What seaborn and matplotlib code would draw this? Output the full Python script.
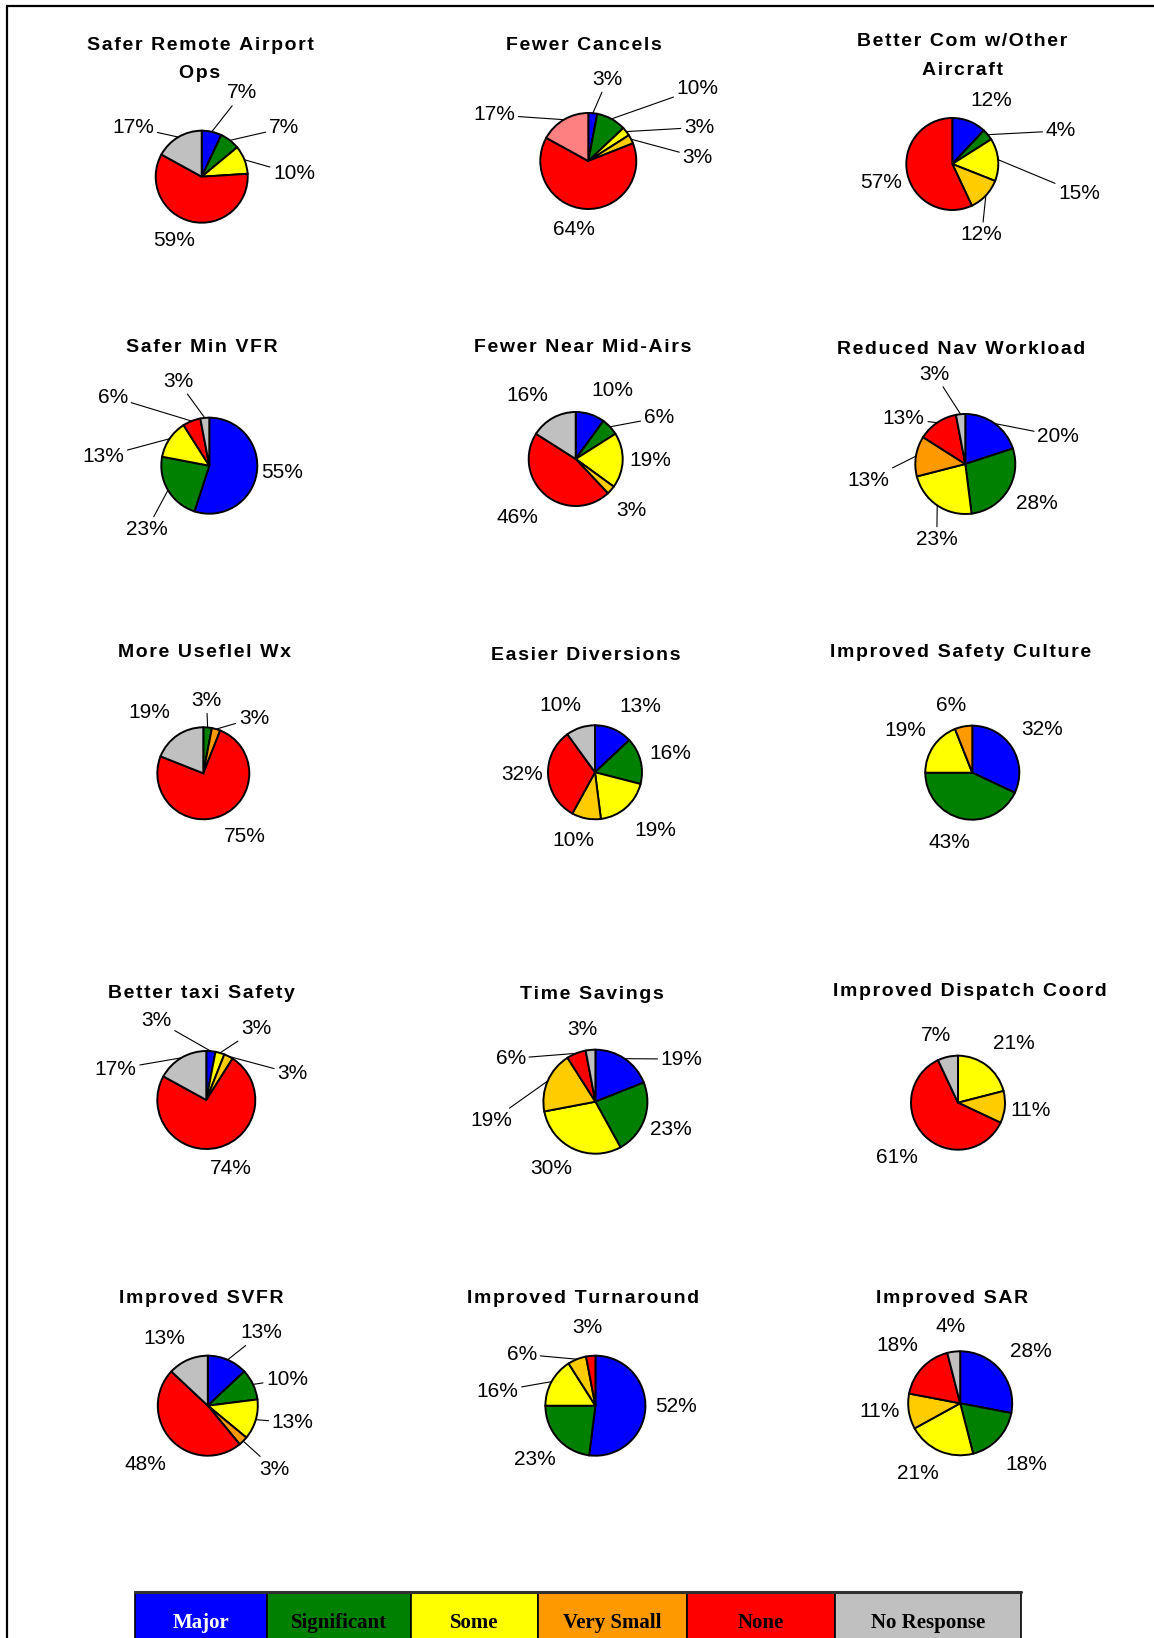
import numpy as np
import matplotlib
matplotlib.use("Agg")
import matplotlib.pyplot as plt
import seaborn as sns
from matplotlib.patches import Rectangle

# categories of benefit, in slice order (clockwise from 12 o'clock)
categories = ['Major', 'Significant', 'Some', 'Very Small', 'None', 'No Response']

titles = ['Safer Remote Airport\nOps', 'Fewer Cancels', 'Better Com w/Other\nAircraft',
          'Safer Min VFR', 'Fewer Near Mid-Airs', 'Reduced Nav Workload',
          'More Useflel Wx', 'Easier Diversions', 'Improved Safety Culture',
          'Better taxi Safety', 'Time Savings', 'Improved Dispatch Coord',
          'Improved SVFR', 'Improved Turnaround', 'Improved SAR']

# percent of responses per category (0 = no slice)
remote_ops      = [7, 7, 10, 0, 59, 17]
fewer_cancels   = [3, 10, 3, 3, 64, 17]
better_com      = [12, 4, 15, 12, 57, 0]
safer_min_vfr   = [55, 23, 13, 0, 6, 3]
near_mid_airs   = [10, 6, 19, 3, 46, 16]
nav_workload    = [20, 28, 23, 13, 13, 3]
useful_wx       = [0, 3, 0, 3, 75, 19]
diversions      = [13, 16, 19, 10, 32, 10]
safety_culture  = [32, 43, 19, 6, 0, 0]
taxi_safety     = [3, 0, 3, 3, 74, 17]
time_savings    = [19, 23, 30, 19, 6, 3]
dispatch_coord  = [0, 0, 21, 11, 61, 7]
improved_svfr   = [13, 10, 13, 3, 48, 13]
turnaround      = [52, 23, 16, 6, 3, 0]
improved_sar    = [28, 18, 21, 11, 18, 4]

charts = [remote_ops, fewer_cancels, better_com, safer_min_vfr, near_mid_airs,
          nav_workload, useful_wx, diversions, safety_culture, taxi_safety,
          time_savings, dispatch_coord, improved_svfr, turnaround, improved_sar]

# ---- styling / layout ----
base_colors = ['#0000FF', '#008000', '#FFFF00', '#FF9900', '#FF0000', '#C0C0C0']
GOLD = '#FFCC00'
PINK = '#FF8080'
gold_small = [False, True, True, False, True, False, False, True, False,
              True, True, True, False, True, True]
pink_noresp = [False, True] + [False] * 13

W, H = 1154, 1638
# pie centre (px), radius (px)
centers = [(201.7, 176.7), (588.3, 161), (952.3, 164),
           (209.3, 465.7), (575.7, 459), (965.3, 464),
           (203.3, 773.3), (595, 772.3), (972.3, 772.7),
           (206.3, 1100), (595.4, 1101.7), (958, 1102.7),
           (207.8, 1405.7), (595.4, 1405.7), (960.2, 1403.3)]
radii = [46, 48, 46, 48, 47, 50, 46, 47, 47, 49, 52, 47, 50, 50, 52]
title_pos = [(200, 59.5), (584, 45), (962, 56.2),
             (202, 347.7), (583, 347.7), (961, 350),
             (204, 652.7), (586, 655), (961, 652.7),
             (201, 993.3), (592, 995), (970, 991.7),
             (201, 1298.3), (583, 1298.3), (952, 1298.3)]

# label positions in radius units, for non-zero slices in order
label_pos = [
    [(0.88, 1.82), (1.79, 1.06), (2.01, 0.06), (-0.60, -1.38), (-1.49, 1.08)],
    [(0.40, 1.70), (2.28, 1.51), (2.31, 0.70), (2.28, 0.08), (-0.30, -1.42), (-1.96, 0.96)],
    [(0.84, 1.39), (2.36, 0.72), (2.76, -0.64), (0.64, -1.54), (-1.55, -0.41)],
    [(1.52, -0.14), (-1.30, -1.33), (-2.21, 0.19), (-2.01, 1.43), (-0.65, 1.76)],
    [(0.78, 1.45), (1.77, 0.88), (1.58, -0.04), (1.19, -1.10), (-1.23, -1.24), (-1.04, 1.36)],
    [(1.86, 0.56), (1.43, -0.79), (-0.57, -1.51), (-1.94, -0.32), (-1.23, 0.90), (-0.61, 1.80)],
    [(0.07, 1.58), (1.10, 1.20), (0.91, -1.38), (-1.18, 1.33)],
    [(0.96, 1.41), (1.60, 0.39), (1.28, -1.23), (-0.47, -1.46), (-1.56, -0.04), (-0.74, 1.43)],
    [(1.48, 0.91), (-0.49, -1.49), (-1.42, 0.89), (-0.46, 1.44)],
    [(-1.02, 1.63), (1.02, 1.45), (1.76, 0.54), (0.50, -1.39), (-1.85, 0.63)],
    [(1.66, 0.82), (1.45, -0.53), (-0.85, -1.29), (-2.0, -0.37), (-1.63, 0.83), (-0.25, 1.38)],
    [(1.18, 1.26), (1.54, -0.17), (-1.29, -1.17), (-0.47, 1.44)],
    [(1.08, 1.46), (1.59, 0.53), (1.70, -0.34), (1.33, -1.27), (-1.25, -1.17), (-0.87, 1.35)],
    [(1.62, -0.02), (-1.22, -1.07), (-1.96, 0.29), (-1.47, 1.03), (-0.16, 1.56)],
    [(1.35, 0.99), (1.28, -1.17), (-0.82, -1.35), (-1.56, -0.16), (-1.20, 1.12), (-0.18, 1.47)],
]
leaders = [
    [1, 1, 1, 0, 1],
    [1, 1, 1, 1, 0, 1],
    [0, 1, 1, 1, 0],
    [0, 1, 1, 1, 1],
    [0, 1, 0, 0, 0, 0],
    [1, 0, 1, 1, 1, 1],
    [1, 1, 0, 0],
    [0] * 6,
    [0] * 4,
    [1, 1, 1, 0, 1],
    [1, 0, 0, 1, 1, 0],
    [0] * 4,
    [1, 1, 1, 1, 0, 0],
    [0, 0, 1, 1, 0],
    [0] * 6,
]


def tracked(s):
    # the titles are set with a little extra letter spacing
    return '\n'.join('\u200a'.join(line) for line in s.split('\n'))


sns.set_theme(style='white')
plt.rcParams['font.family'] = ['Liberation Sans', 'DejaVu Sans']
plt.rcParams['text.color'] = 'black'

fig = plt.figure(figsize=(W / 100, H / 100), dpi=100)
fig.patch.set_facecolor('white')

# background axes in pixel coordinates: frame + legend strip
bg = fig.add_axes([0, 0, 1, 1])
bg.set_xlim(0, W)
bg.set_ylim(H, 0)
bg.axis('off')
bg.plot([7, 7], [5.5, H], color='black', lw=1.6, solid_capstyle='butt')
bg.plot([6.2, W], [5.5, 5.5], color='black', lw=1.6, solid_capstyle='butt')

cell_edges = [135, 267, 411, 538, 687, 835, 1021]
leg_top = 1592
for i, cat in enumerate(categories):
    x0, x1 = cell_edges[i], cell_edges[i + 1]
    bg.add_patch(Rectangle((x0, leg_top), x1 - x0, 80, facecolor=base_colors[i],
                           edgecolor='black', lw=1.2))
    bg.text((x0 + x1) / 2, 1623, cat, ha='center', va='center', fontsize=15,
            fontweight='bold', family=['Liberation Serif', 'DejaVu Serif'],
            color='white' if cat == 'Major' else 'black')
bg.plot([cell_edges[0], cell_edges[-1]], [leg_top, leg_top], color='#303030', lw=2.2)

SPAN = 3.0
for k, vals in enumerate(charts):
    cx, cy = centers[k]
    r = radii[k]
    half = SPAN * r
    ax = fig.add_axes([(cx - half) / W, 1 - (cy + half) / H, 2 * half / W, 2 * half / H])

    cols = list(base_colors)
    if gold_small[k]:
        cols[3] = GOLD
    if pink_noresp[k]:
        cols[5] = PINK
    keep = [i for i, v in enumerate(vals) if v > 0]
    sizes = [vals[i] for i in keep]
    ax.pie(sizes, colors=[cols[i] for i in keep], startangle=90, counterclock=False,
           radius=1, wedgeprops=dict(edgecolor='black', linewidth=1.4))
    # pie() resets the limits, so fix them afterwards
    ax.set_xlim(-SPAN, SPAN)
    ax.set_ylim(-SPAN, SPAN)
    ax.set_aspect('equal')
    ax.axis('off')
    ax.patch.set_alpha(0)

    total = float(sum(sizes))
    cum = 0.0
    for j, v in enumerate(sizes):
        mid = np.deg2rad(90 - 360 * (cum + v / 2) / total)
        cum += v
        lx, ly = label_pos[k][j]
        txt = f'{v}%'
        if leaders[k][j]:
            ax.annotate(txt, xy=(np.cos(mid), np.sin(mid)), xytext=(lx, ly),
                        ha='center', va='center', fontsize=15, color='black',
                        arrowprops=dict(arrowstyle='-', color='black', lw=0.8,
                                        shrinkA=0, shrinkB=0))
        else:
            ax.text(lx, ly, txt, ha='center', va='center', fontsize=15, color='black')

    tx, ty = title_pos[k]
    fig.text(tx / W, 1 - ty / H, tracked(titles[k]), ha='center', va='center',
             fontsize=14, fontweight='bold', linespacing=1.9, color='black')

fig.savefig('out.png', dpi=100)
